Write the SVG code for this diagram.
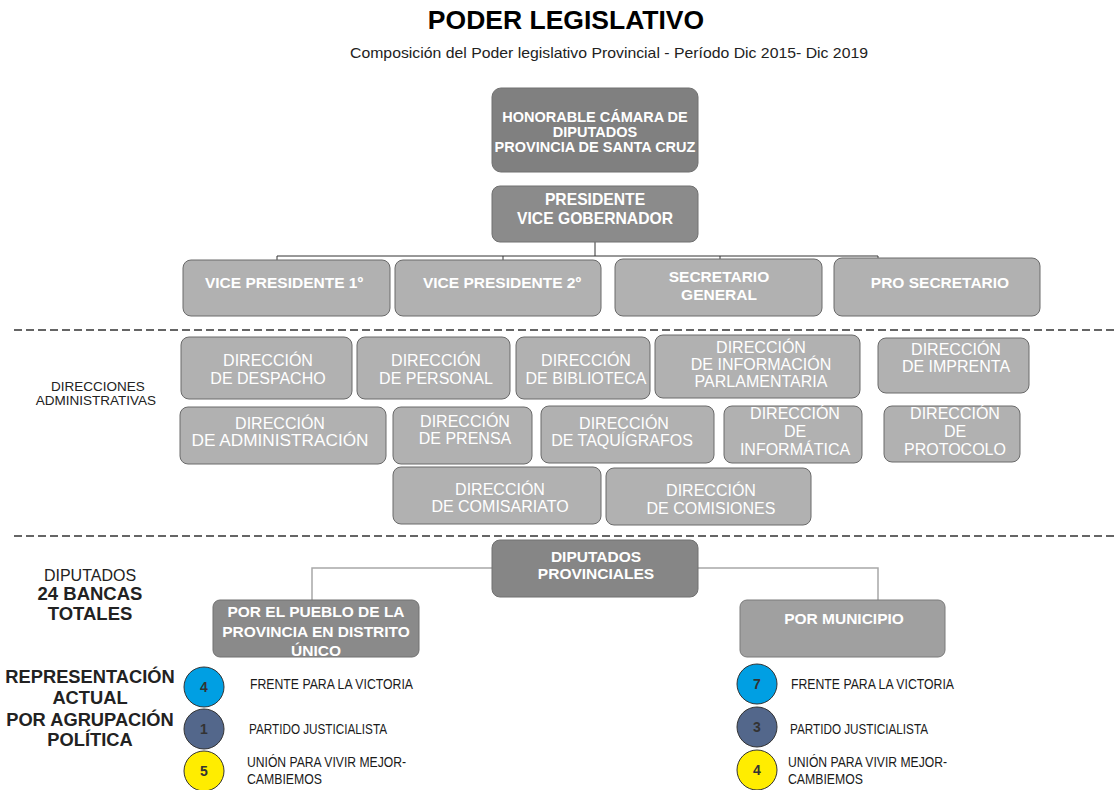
<svg xmlns="http://www.w3.org/2000/svg" width="1116" height="790" viewBox="0 0 1116 790">
<style>
text{font-family:"Liberation Sans",Arial,sans-serif;}
.t{font-weight:bold;font-size:26.5px;fill:#000;text-anchor:middle}
.st{font-size:14.5px;fill:#222;text-anchor:middle}
.dark{fill:#808080;stroke:#707070;stroke-width:1}
.light{fill:#b1b1b1;stroke:#6a6a6a;stroke-width:1}
.bw{font-weight:bold;fill:#fff;text-anchor:middle}
.rw{fill:#fff;text-anchor:middle;font-size:16px}
.lab{fill:#222;text-anchor:middle}
.party{fill:#1a1a1a;font-size:14px}
.num{font-weight:bold;font-size:14px;fill:#333;text-anchor:middle}
.circ{stroke:#333;stroke-width:1}
.dash{stroke:#333;stroke-width:1.5;stroke-dasharray:8,4;fill:none}
</style>
<text class="t" x="566" y="29">PODER LEGISLATIVO</text>
<text class="st" x="609" y="58" textLength="518" lengthAdjust="spacingAndGlyphs">Composición del Poder legislativo Provincial - Período Dic 2015- Dic 2019</text>

<g id="connectors" fill="none">
<path d="M595 242V256M277 256H878M277 256V260M503 256V260M720 256V259M878 256V258" stroke="#333" stroke-width="1"/>
<path d="M492 568H312V600M698 568H878V600" stroke="#a8a8a8" stroke-width="1.5"/>
</g>

<g id="sep">
<line class="dash" x1="14" y1="330" x2="1116" y2="330"/>
<line class="dash" x1="14" y1="536" x2="1116" y2="536"/>
</g>

<g id="camara">
<rect x="492" y="88" width="206" height="84" rx="9" class="dark"/>
<text class="bw" font-size="14.5" x="595" y="122">HONORABLE CÁMARA DE</text>
<text class="bw" font-size="14.5" x="595" y="137">DIPUTADOS</text>
<text class="bw" font-size="14.5" x="595" y="152">PROVINCIA DE SANTA CRUZ</text>
</g>
<g id="presidente">
<rect x="492" y="186" width="206" height="56" rx="8" fill="#8b8b8b" stroke="#707070"/>
<text class="bw" font-size="15.7" x="595" y="205">PRESIDENTE</text>
<text class="bw" font-size="15.7" x="595" y="224">VICE GOBERNADOR</text>
</g>
<g id="vp1">
<rect x="183" y="260" width="207" height="56" rx="8" class="light"/>
<text class="bw" font-size="15.5" x="284" y="288">VICE PRESIDENTE 1º</text>
</g>
<g id="vp2">
<rect x="395" y="260" width="206" height="56" rx="8" class="light"/>
<text class="bw" font-size="15.5" x="502" y="288">VICE PRESIDENTE 2º</text>
</g>
<g id="secretario">
<rect x="615" y="259" width="207" height="57" rx="8" class="light"/>
<text class="bw" font-size="15.5" x="719" y="282">SECRETARIO</text>
<text class="bw" font-size="15.5" x="719" y="300">GENERAL</text>
</g>
<g id="prosecretario">
<rect x="834" y="258" width="206" height="58" rx="8" class="light"/>
<text class="bw" font-size="15.5" x="940" y="288">PRO SECRETARIO</text>
</g>

<g id="label-direcciones">
<text class="lab" font-size="13.5" x="98" y="391">DIRECCIONES</text>
<text class="lab" font-size="13.5" x="96" y="405">ADMINISTRATIVAS</text>
</g>

<g id="despacho">
<rect x="181" y="337" width="171" height="62" rx="8" class="light"/>
<text class="rw" x="268" y="366">DIRECCIÓN</text>
<text class="rw" x="268" y="384">DE DESPACHO</text>
</g>
<g id="personal">
<rect x="357" y="337" width="153" height="62" rx="8" class="light"/>
<text class="rw" x="436" y="366">DIRECCIÓN</text>
<text class="rw" x="436" y="384">DE PERSONAL</text>
</g>
<g id="biblioteca">
<rect x="516" y="337" width="134" height="62" rx="8" class="light"/>
<text class="rw" x="586" y="366">DIRECCIÓN</text>
<text class="rw" x="586" y="384">DE BIBLIOTECA</text>
</g>
<g id="informacion">
<rect x="655" y="335" width="205" height="63" rx="8" class="light"/>
<text class="rw" x="761" y="353">DIRECCIÓN</text>
<text class="rw" x="761" y="370">DE INFORMACIÓN</text>
<text class="rw" x="761" y="387">PARLAMENTARIA</text>
</g>
<g id="imprenta">
<rect x="878" y="338" width="151" height="55" rx="8" class="light"/>
<text class="rw" x="956" y="355">DIRECCIÓN</text>
<text class="rw" x="956" y="372">DE IMPRENTA</text>
</g>
<g id="administracion">
<rect x="180" y="407" width="206" height="57" rx="8" class="light"/>
<text class="rw" x="280" y="429">DIRECCIÓN</text>
<text class="rw" x="280" y="446" textLength="177" lengthAdjust="spacingAndGlyphs">DE ADMINISTRACIÓN</text>
</g>
<g id="prensa">
<rect x="393" y="407" width="139" height="57" rx="8" class="light"/>
<text class="rw" x="465" y="427">DIRECCIÓN</text>
<text class="rw" x="465" y="444">DE PRENSA</text>
</g>
<g id="taquigrafos">
<rect x="541" y="406" width="173" height="57" rx="8" class="light"/>
<text class="rw" x="624" y="429">DIRECCIÓN</text>
<text class="rw" x="622" y="446">DE TAQUÍGRAFOS</text>
</g>
<g id="informatica">
<rect x="724" y="406" width="138" height="57" rx="8" class="light"/>
<text class="rw" x="795" y="419">DIRECCIÓN</text>
<text class="rw" x="795" y="437">DE</text>
<text class="rw" x="795" y="455">INFORMÁTICA</text>
</g>
<g id="protocolo">
<rect x="884" y="406" width="136" height="56" rx="8" class="light"/>
<text class="rw" x="955" y="419">DIRECCIÓN</text>
<text class="rw" x="955" y="437">DE</text>
<text class="rw" x="955" y="455">PROTOCOLO</text>
</g>
<g id="comisariato">
<rect x="393" y="467" width="208" height="57" rx="8" class="light"/>
<text class="rw" x="500" y="495">DIRECCIÓN</text>
<text class="rw" x="500" y="512">DE COMISARIATO</text>
</g>
<g id="comisiones">
<rect x="606" y="468" width="205" height="57" rx="8" class="light"/>
<text class="rw" x="711" y="496">DIRECCIÓN</text>
<text class="rw" x="711" y="514">DE COMISIONES</text>
</g>

<g id="diputados">
<rect x="492" y="540" width="206" height="57" rx="8" fill="#868686" stroke="#707070"/>
<text class="bw" font-size="15.5" x="596" y="562">DIPUTADOS</text>
<text class="bw" font-size="15.5" x="596" y="579">PROVINCIALES</text>
</g>
<g id="pueblo">
<rect x="213" y="600" width="206" height="57" rx="7" fill="#8a8a8a" stroke="#707070"/>
<text class="bw" font-size="15.5" x="316" y="617">POR EL PUEBLO DE LA</text>
<text class="bw" font-size="15.5" x="316" y="637">PROVINCIA EN DISTRITO</text>
<text class="bw" font-size="15.5" x="316" y="656">ÚNICO</text>
</g>
<g id="municipio">
<rect x="740" y="600" width="205" height="57" rx="7" fill="#a0a0a0" stroke="#7a7a7a"/>
<text class="bw" font-size="15.5" x="844" y="624">POR MUNICIPIO</text>
</g>

<g id="label-diputados">
<text class="lab" font-size="16" x="90" y="581">DIPUTADOS</text>
<text class="lab" font-size="18.5" font-weight="bold" x="90" y="600">24 BANCAS</text>
<text class="lab" font-size="18.5" font-weight="bold" x="90" y="620">TOTALES</text>
</g>
<g id="label-representacion">
<text class="lab" font-size="18.3" font-weight="bold" x="90" y="683">REPRESENTACIÓN</text>
<text class="lab" font-size="18.3" font-weight="bold" x="90" y="704">ACTUAL</text>
<text class="lab" font-size="18.3" font-weight="bold" x="90" y="726">POR AGRUPACIÓN</text>
<text class="lab" font-size="18.3" font-weight="bold" x="90" y="746">POLÍTICA</text>
</g>

<g id="left-fpv">
<circle class="circ" cx="204" cy="687" r="20" fill="#009fe3"/>
<text class="num" x="204" y="692">4</text>
<text class="party" x="250" y="689" textLength="163" lengthAdjust="spacingAndGlyphs">FRENTE PARA LA VICTORIA</text>
</g>
<g id="left-pj">
<circle class="circ" cx="204" cy="729" r="20" fill="#53678b"/>
<text class="num" x="204" y="734">1</text>
<text class="party" x="249" y="734" textLength="138" lengthAdjust="spacingAndGlyphs">PARTIDO JUSTICIALISTA</text>
</g>
<g id="left-uvm">
<circle class="circ" cx="204" cy="771" r="20" fill="#ffed00"/>
<text class="num" x="204" y="776">5</text>
<text class="party" x="247" y="767" textLength="159" lengthAdjust="spacingAndGlyphs">UNIÓN PARA VIVIR MEJOR-</text>
<text class="party" x="247" y="784" textLength="75" lengthAdjust="spacingAndGlyphs">CAMBIEMOS</text>
</g>
<g id="right-fpv">
<circle class="circ" cx="757" cy="684" r="20" fill="#009fe3"/>
<text class="num" x="757" y="689">7</text>
<text class="party" x="791" y="689" textLength="163" lengthAdjust="spacingAndGlyphs">FRENTE PARA LA VICTORIA</text>
</g>
<g id="right-pj">
<circle class="circ" cx="757" cy="727" r="20" fill="#53678b"/>
<text class="num" x="757" y="732">3</text>
<text class="party" x="790" y="734" textLength="138" lengthAdjust="spacingAndGlyphs">PARTIDO JUSTICIALISTA</text>
</g>
<g id="right-uvm">
<circle class="circ" cx="757" cy="770" r="20" fill="#ffed00"/>
<text class="num" x="757" y="775">4</text>
<text class="party" x="788" y="767" textLength="159" lengthAdjust="spacingAndGlyphs">UNIÓN PARA VIVIR MEJOR-</text>
<text class="party" x="788" y="784" textLength="75" lengthAdjust="spacingAndGlyphs">CAMBIEMOS</text>
</g>
</svg>
